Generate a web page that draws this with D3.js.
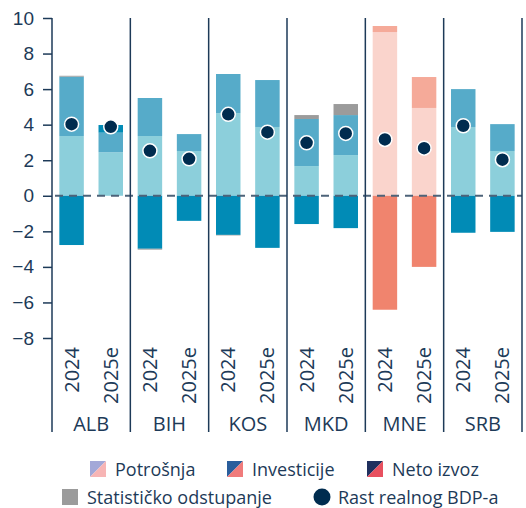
<!DOCTYPE html>
<html>
<head>
<meta charset="utf-8">
<script src="https://cdn.jsdelivr.net/npm/d3@7"></script>
<style>
  body { margin: 0; background: #fff; }
  svg { display: block; font-family: "Open Sans", sans-serif; }
</style>
</head>
<body>
<svg width="526" height="508"></svg>
<script>
(function() {
    // data, one value per bar (country x year)
    var countries   = ["ALB", "BIH", "KOS", "MKD", "MNE", "SRB"];
    var years       = ["2024", "2025e"];
    var potrosnja   = [3.36, 2.45, 3.36, 2.52, 4.65, 3.87, 1.67, 2.29, 9.21, 4.94, 3.87, 2.52];
    var investicije = [3.34, 1.10, 2.14, 0.95, 2.20, 2.64, 2.65, 2.25, 0.34, 1.74, 2.13, 1.51];
    var netoIzvoz   = [-2.77, 0.43, -2.98, -1.41, -2.20, -2.93, -1.59, -1.82, -6.41, -4.00, -2.08, -2.03];
    var statOdst    = [0.05, 0, -0.05, 0, -0.03, 0, 0.22, 0.62, 0, 0, 0, 0];
    var rastBDP     = [4.03, 3.88, 2.53, 2.08, 4.58, 3.58, 2.98, 3.51, 3.17, 2.68, 3.94, 2.03];
    var yTicks      = [10, 8, 6, 4, 2, 0, -2, -4, -6, -8];

    var keys = ["potrosnja", "investicije", "neto", "stat"];
    var blues = { potrosnja: "#8ccfdb", investicije: "#56abc9", neto: "#018bb6", stat: "#9b9b9b" };
    var reds  = { potrosnja: "#fad4cc", investicije: "#f5aa99", neto: "#f0846e", stat: "#9b9b9b" };
    var navy = "#1d3a58";

    var data = [];
    countries.forEach(function(c, i) {
        years.forEach(function(y, j) {
            var k = i * 2 + j;
            data.push({
                id: c + "|" + y, country: c, year: y,
                potrosnja: potrosnja[k], investicije: investicije[k],
                neto: netoIzvoz[k], stat: statOdst[k], gdp: rastBDP[k]
            });
        });
    });

    var svg = d3.select("svg");
    var left = 52, right = 522, top = 18, bottom = 338;

    var x = d3.scaleBand()
        .domain(data.map(function(d) { return d.id; }))
        .range([left, right])
        .paddingInner(0.375)
        .paddingOuter(0.1875);
    var y = d3.scaleLinear().domain([-8, 10]).range([bottom, top]);

    var series = d3.stack().keys(keys).offset(d3.stackOffsetDiverging)(data);

    //Bars
    svg.append("g").selectAll("g")
        .data(series)
      .enter().append("g")
        .each(function(s) {
            d3.select(this).selectAll("rect")
                .data(s)
              .enter().append("rect")
                .attr("x", function(d) { return x(d.data.id); })
                .attr("width", x.bandwidth())
                .attr("y", function(d) { return y(Math.max(d[0], d[1])); })
                .attr("height", function(d) { return Math.abs(y(d[0]) - y(d[1])); })
                .attr("fill", function(d) {
                    return (d.data.country === "MNE" ? reds : blues)[s.key];
                });
        });

    //Zero line
    svg.append("line")
        .attr("x1", left).attr("x2", right)
        .attr("y1", y(0)).attr("y2", y(0))
        .attr("stroke", "#4d6379")
        .attr("stroke-width", 2)
        .attr("stroke-dasharray", "8,6")
        .attr("stroke-dashoffset", -3);

    //Y Axis
    var yAxis = svg.append("g")
        .attr("transform", "translate(" + left + ",0)")
        .call(d3.axisLeft(y).tickValues(yTicks).tickSize(9).tickPadding(9)
            .tickFormat(function(d) { return d < 0 ? "\u2212" + Math.abs(d) : d; }));
    yAxis.select(".domain").remove();
    yAxis.selectAll("line").attr("stroke", navy).attr("stroke-width", 1.5);
    yAxis.selectAll("text").attr("fill", navy).attr("font-size", 19);

    //Group separators
    var groupW = (right - left) / countries.length;
    svg.append("g").selectAll("line")
        .data(d3.range(countries.length + 1))
      .enter().append("line")
        .attr("x1", function(i) { return left + i * groupW; })
        .attr("x2", function(i) { return left + i * groupW; })
        .attr("y1", top).attr("y2", 432)
        .attr("stroke", navy)
        .attr("stroke-width", 1.5);

    //Year labels
    svg.append("g").selectAll("text")
        .data(data)
      .enter().append("text")
        .attr("transform", function(d) {
            return "translate(" + (x(d.id) + x.bandwidth() / 2 + 7) + ",347) rotate(-90)";
        })
        .attr("text-anchor", "end")
        .attr("font-size", 20)
        .attr("fill", navy)
        .text(function(d) { return d.year; });

    //Country labels
    svg.append("g").selectAll("text")
        .data(countries)
      .enter().append("text")
        .attr("x", function(c, i) { return left + (i + 0.5) * groupW; })
        .attr("y", 431)
        .attr("text-anchor", "middle")
        .attr("font-size", 20)
        .attr("fill", navy)
        .text(function(c) { return c; });

    //GDP dots
    svg.append("g").selectAll("circle")
        .data(data)
      .enter().append("circle")
        .attr("cx", function(d) { return x(d.id) + x.bandwidth() / 2; })
        .attr("cy", function(d) { return y(d.gdp); })
        .attr("r", 7)
        .attr("fill", "#002c4f")
        .attr("stroke", "#fff")
        .attr("stroke-width", 1.5);

    //Legend
    var legend = svg.append("g").attr("font-size", 18).attr("fill", navy);
    var splitItems = [
        { label: "Potrošnja",   x: 90,  a: "#a3a8d8", b: "#f7b5b5" },
        { label: "Investicije", x: 227, a: "#2a5e9c", b: "#f07b7b" },
        { label: "Neto izvoz",  x: 367, a: "#20305e", b: "#e8505f" }
    ];
    splitItems.forEach(function(it) {
        var g = legend.append("g").attr("transform", "translate(" + it.x + ",461)");
        g.append("path").attr("d", "M0,0H16L0,16Z").attr("fill", it.a);
        g.append("path").attr("d", "M16,0V16H0Z").attr("fill", it.b);
        g.append("text").attr("x", 25).attr("y", 14.5).text(it.label);
    });
    var g2 = legend.append("g").attr("transform", "translate(62,489)");
    g2.append("rect").attr("width", 16).attr("height", 16).attr("fill", "#9b9b9b");
    g2.append("text").attr("x", 25).attr("y", 14.5).text("Statističko odstupanje");
    var g3 = legend.append("g").attr("transform", "translate(322,497)");
    g3.append("circle").attr("r", 8.5).attr("fill", "#002c4f");
    g3.append("text").attr("x", 16).attr("y", 6.5).text("Rast realnog BDP-a");
})();
</script>
</body>
</html>
